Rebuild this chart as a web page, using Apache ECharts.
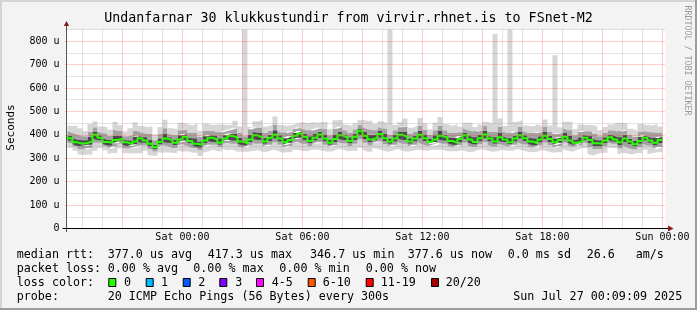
<!DOCTYPE html>
<html><head><meta charset="utf-8">
<script src="https://cdn.jsdelivr.net/npm/echarts@6/dist/echarts.min.js"></script>
<style>html,body{margin:0;padding:0;background:#f3f3f3}#c{width:697px;height:310px}</style>
</head><body><div id="c"></div>
<script>
// ---------------- DATA ----------------
const titleText = 'Undanfarnar 30 klukkustundir from virvir.rhnet.is to FSnet-M2';
const startTime = Date.UTC(2025, 6, 25, 18, 9, 9);   // Fri 18:09:09
const endTime   = Date.UTC(2025, 6, 27, 0, 9, 9);    // Sun 00:09:09
const firstSample = Date.UTC(2025, 6, 25, 18, 15, 0);
const stepMinutes = 15;
// median RTT (microseconds), one value per 15 min
const median = [398,385,368,362, 365,372,400,388, 370,366,378,382, 368,360,372,385, 376,362,347,370, 384,378,366,380,
 392,374,362,358, 376,388,380,366, 384,396,388,372, 364,380,398,390, 372,388,400,384, 368,378,396,406,
 392,374,388,401, 384,366,382,398, 390,374,392,417, 396,380,388,404, 386,372,384,400, 392,372,384,400,
 386,370,380,396, 388,374,366,382, 398,380,370,386, 402,384,372,390, 380,368,384,398, 386,372,364,380,
 396,382,368,378, 392,376,366,372, 388,378,364,362, 376,390,380,368, 384,372,360,374, 388,376,366,378];
// smoke spread around the median (microseconds)
const up1 = [14,12,18,16, 12,20,14,10, 16,12,18,14, 10,16,20,12, 14,18,12,16, 20,12,14,18, 12,16,22,14, 18,12,16,20,
 14,10,18,16, 12,20,14,18, 16,12,20,14, 18,16,12,10, 14,20,16,12, 18,14,20,16, 12,16,14,10, 16,20,14,12,
 18,12,16,14, 20,14,12,18, 16,12,18,20, 14,16,20,12, 12,18,20,14, 16,12,18,20, 14,18,12,16, 12,16,20,14,
 18,14,16,12, 16,20,14,18, 12,16,18,14, 14,12,18,22, 16,12,14,18, 12,16,20,14];
const dn1 = [12,10,8,10, 12,14,16,10, 8,12,14,10, 12,8,12,16, 10,12,8,10, 14,12,10,12, 16,10,8,12, 12,14,10,8,
 10,16,12,10, 8,12,16,12, 10,14,16,12, 10,12,14,18, 14,10,12,16, 12,8,12,14, 12,10,14,18, 14,12,10,16,
 12,10,12,14, 14,10,12,16, 12,8,10,14, 12,10,8,12, 16,12,10,12, 16,12,10,14, 10,8,12,14, 12,10,8,12,
 14,12,10,12, 12,10,8,8, 10,14,12,10, 12,10,8,12, 14,12,10,12, 12,10,12,14];
const up2 = [34,30,40,38, 28,42,32,26, 36,30,44,34, 26,38,46,30, 32,42,30,36, 44,28,32,40, 30,36,48,34, 40,30,36,44,
 32,26,40,36, 30,44,34,40, 36,30,44,32, 40,36,30,26, 32,44,36,30, 40,32,44,36, 30,36,32,26, 36,44,32,30,
 40,30,36,32, 44,32,30,40, 36,30,40,44, 32,36,44,30, 30,40,44,32, 36,30,40,44, 32,40,30,36, 30,36,44,32,
 40,32,36,30, 36,44,32,40, 30,36,40,32, 32,30,40,46, 36,30,32,40, 30,36,44,32];
const dn2 = [24,20,18,22, 26,28,34,22, 18,24,28,20, 24,18,26,32, 22,24,18,22, 30,26,22,24, 32,22,18,24, 26,30,22,18,
 22,32,26,22, 18,26,34,28, 22,30,32,26, 22,26,30,36, 30,22,26,32, 26,18,26,30, 26,22,30,36, 30,26,22,32,
 26,22,26,30, 30,22,26,32, 26,18,22,30, 26,22,18,26, 32,26,22,26, 32,26,22,30, 22,18,26,30, 26,22,18,26,
 30,26,22,26, 26,22,18,18, 22,30,26,22, 26,22,18,26, 30,26,22,26, 26,22,26,30];
// max ping; the big values are the isolated spikes
const up3 = [62,54,70,66, 50,74,58,48, 64,56,78,60, 46,68,82,54, 58,74,56,64, 80,50,58,72, 54,66,86,60, 72,54,64,78,
 58,48,72,64, 520,54,60,72, 64,54,78,58, 70,64,54,48, 58,80,64,54, 72,58,80,66, 54,64,58,48, 64,80,58,54,
 64,520,58,54, 78,58,54,72, 64,54,72,80, 58,64,80,54, 54,72,64,58, 54,64,460,80, 58,520,72,64, 54,64,80,58,
 70,58,372,54, 64,80,58,72, 54,64,72,58, 58,54,72,84, 64,54,58,72, 54,64,80,58];
const dn3 = [48,40,36,44, 52,56,68,44, 36,48,56,40, 48,38,52,64, 44,48,36,44, 60,52,44,48, 64,44,38,48, 52,60,44,36,
 44,62,52,44, 36,52,68,56, 44,60,64,52, 44,52,60,70, 60,44,52,64, 52,38,52,60, 52,44,60,72, 60,52,44,64,
 52,44,52,60, 60,44,52,64, 52,38,44,60, 52,44,36,52, 64,52,44,52, 64,52,44,60, 44,36,52,60, 52,44,38,52,
 60,52,44,52, 52,44,38,36, 44,60,52,44, 52,44,36,52, 60,52,44,52, 52,60,44,52];
const yMajorTicks = [100,200,300,400,500,600,700,800];
const yMinorTicks = [50,150,250,350,450,550,650,750,850];
const xLabelTimes = [Date.UTC(2025,6,26,0), Date.UTC(2025,6,26,6), Date.UTC(2025,6,26,12), Date.UTC(2025,6,26,18), Date.UTC(2025,6,27,0)];
const legendRows = [
  ['median rtt:', '377.0 us avg', '417.3 us max', '346.7 us min', '377.6 us now', '0.0 ms sd', '26.6', 'am/s'],
  ['packet loss:', '0.00 % avg', '0.00 % max', '0.00 % min', '0.00 % now'],
  ['loss color:'],
  ['probe:', '20 ICMP Echo Pings (56 Bytes) every 300s', 'Sun Jul 27 00:09:09 2025']
];
const lossLabels = ['0','1','2','3','4-5','6-10','11-19','20/20'];
const lossColors = ['#26ff00','#00b8ff','#0059ff','#7e00ff','#ff00ff','#ff5500','#ff0000','#a10000'];
const watermark = 'RRDTOOL / TOBI OETIKER';
const yName = 'Seconds';

// ---------------- LAYOUT ----------------
const GL = 65.5, GT = 29.5, GW = 600, GH = 199;
const MONO = 'DejaVu Sans Mono';
const legendX = [
  [16.7,107.7,207.7,310,407.7,507.7,586.7,635.7],
  [16.7,107.7,193.3,279.3,365.7],
  [16.7],
  [16.7,107.7,513.3]
];
const legendY = [254.5, 268.5, 282.5, 296.5];
const boxX = [108.3,145.7,182.7,219.3,256,307.7,365.7,431];
const boxLabelX = [124,161,198.3,235.3,271.7,322.7,380.7,445.7];

const times = median.map((_, i) => firstSample + i * stepMinutes * 60000);
const pair = arr => arr.map((v, i) => [times[i], v]);
const base = median.map((m, i) => m - dn3[i]);
const l1 = median.map((m, i) => dn3[i] - dn2[i]);
const l2 = median.map((m, i) => dn2[i] - dn1[i]);
const l3 = median.map((m, i) => dn1[i] + up1[i]);
const l4 = median.map((m, i) => up2[i] - up1[i]);
const l5 = median.map((m, i) => up3[i] - up2[i]);

function band(name, data, color) {
  return { name, type: 'line', stack: 'smoke', step: 'start', data: pair(data), symbol: 'none',
    lineStyle: { width: 0, opacity: 0 }, areaStyle: color ? { color, opacity: 1 } : { opacity: 0 },
    z: 2, silent: true };
}

const hourLines = [];
for (let t = Date.UTC(2025,6,25,19); t <= Date.UTC(2025,6,27,0); t += 3600000) hourLines.push(t);

const gridSeries = {
  type: 'line', data: pair(median), symbol: 'none', lineStyle: { opacity: 0 }, z: 3, silent: true,
  markLine: {
    silent: true, symbol: ['none','none'], animation: false, label: { show: false },
    data: [
      ...yMinorTicks.map(v => ({ yAxis: v, lineStyle: { color: 'rgba(150,150,150,0.5)', type: [1,1], width: 1 } })),
      ...yMajorTicks.map(v => ({ yAxis: v, lineStyle: { color: 'rgba(255,70,70,0.55)', type: [1,1], width: 1 } })),
      ...hourLines.map(t => ({ xAxis: t, lineStyle: {
        color: (new Date(t).getUTCHours() % 3 === 0) ? 'rgba(255,70,70,0.55)' : 'rgba(150,150,150,0.5)', type: [1,1], width: 1 } }))
    ]
  }
};

const DAYS = ['Sun','Mon','Tue','Wed','Thu','Fri','Sat'];
const pad = n => String(n).padStart(2, '0');
const fmtTime = v => { const d = new Date(v); return DAYS[d.getUTCDay()] + ' ' + pad(d.getUTCHours()) + ':' + pad(d.getUTCMinutes()); };

const chart = echarts.init(document.getElementById('c'), null, { renderer: 'canvas' });
const graphics = [];
// frame
graphics.push({ type: 'rect', shape: { x: 0, y: 0, width: 697, height: 2 }, style: { fill: '#d4d4d4' }, silent: true });
graphics.push({ type: 'rect', shape: { x: 0, y: 0, width: 2, height: 310 }, style: { fill: '#d4d4d4' }, silent: true });
graphics.push({ type: 'rect', shape: { x: 0, y: 308, width: 697, height: 2 }, style: { fill: '#9c9c9c' }, silent: true });
graphics.push({ type: 'rect', shape: { x: 695, y: 0, width: 2, height: 310 }, style: { fill: '#9c9c9c' }, silent: true });
// title
graphics.push({ type: 'text', x: 348.5, y: 19, style: { text: titleText, font: '13.3px ' + MONO, fill: '#000', align: 'center', verticalAlign: 'middle' }, silent: true });
// y name
graphics.push({ type: 'text', x: 10.8, y: 127.5, rotation: Math.PI / 2, style: { text: yName, font: '11px ' + MONO, fill: '#000', align: 'center', verticalAlign: 'middle' }, silent: true });
// watermark
graphics.push({ type: 'text', x: 687.5, y: 60.5, rotation: -Math.PI / 2, style: { text: watermark, font: '8.3px ' + MONO, fill: '#9a9a9a', align: 'center', verticalAlign: 'middle' }, silent: true });
// axes lines + arrows
graphics.push({ type: 'line', shape: { x1: 66.5, y1: 232, x2: 66.5, y2: 25 }, style: { stroke: '#555', lineWidth: 1 }, z: 10, silent: true });
graphics.push({ type: 'line', shape: { x1: 62.5, y1: 228.5, x2: 668, y2: 228.5 }, style: { stroke: '#000', lineWidth: 1 }, z: 10, silent: true });
graphics.push({ type: 'polygon', shape: { points: [[63.8, 26], [69.2, 26], [66.5, 21]] }, style: { fill: '#8b1a1a' }, z: 11, silent: true });
graphics.push({ type: 'polygon', shape: { points: [[668, 225.5], [668, 231.5], [673.5, 228.5]] }, style: { fill: '#8b1a1a' }, z: 11, silent: true });
// legend rows
legendRows.forEach((row, r) => row.forEach((txt, k) => {
  graphics.push({ type: 'text', x: legendX[r][k], y: legendY[r], style: { text: txt, font: '11.7px ' + MONO, fill: '#000', align: 'left', verticalAlign: 'middle' }, silent: true });
}));
lossLabels.forEach((lab, k) => {
  graphics.push({ type: 'rect', shape: { x: boxX[k] + 0.5, y: 278.5, width: 7, height: 8 }, style: { fill: lossColors[k], stroke: '#000', lineWidth: 1 }, silent: true });
  graphics.push({ type: 'text', x: boxLabelX[k], y: legendY[2], style: { text: lab, font: '11.7px ' + MONO, fill: '#000', align: 'left', verticalAlign: 'middle' }, silent: true });
});

chart.setOption({
  animation: false,
  backgroundColor: '#f3f3f3',
  grid: { left: GL, top: GT, width: GW, height: GH, show: true, backgroundColor: '#ffffff', borderWidth: 0, containLabel: false },
  xAxis: {
    type: 'time', min: startTime, max: endTime,
    axisLine: { show: false }, axisTick: { show: false }, splitLine: { show: false },
    axisLabel: { show: false }
  },
  yAxis: {
    type: 'value', min: 0, max: 850, interval: 50,
    axisLine: { show: false }, axisTick: { show: false }, splitLine: { show: false },
    axisLabel: { margin: 6, fontFamily: MONO, fontSize: 10, color: '#000', showMaxLabel: false,
      formatter: v => (v % 100 !== 0 || v > 800) ? '' : (v === 0 ? '0' : v + ' u') }
  },
  series: [
    band('base', base, null),
    band('l1', l1, '#d6d6d6'),
    band('l2', l2, '#a2a2a2'),
    band('l3', l3, '#4a4a4a'),
    band('l4', l4, '#a2a2a2'),
    band('l5', l5, '#d6d6d6'),
    gridSeries,
    { name: 'median', type: 'line', step: 'start', data: pair(median), symbol: 'none',
      lineStyle: { color: '#26ff00', width: 2 }, z: 4, silent: true }
  ],
  graphic: graphics
});

// x-axis time labels positioned through the axis scale
const xLabels = xLabelTimes.map(t => ({
  type: 'text', x: chart.convertToPixel({ xAxisIndex: 0 }, t), y: 237.5,
  style: { text: fmtTime(t), font: '10px ' + MONO, fill: '#000', align: 'center', verticalAlign: 'middle' }, silent: true
}));
chart.setOption({ graphic: graphics.concat(xLabels) });
</script></body></html>
